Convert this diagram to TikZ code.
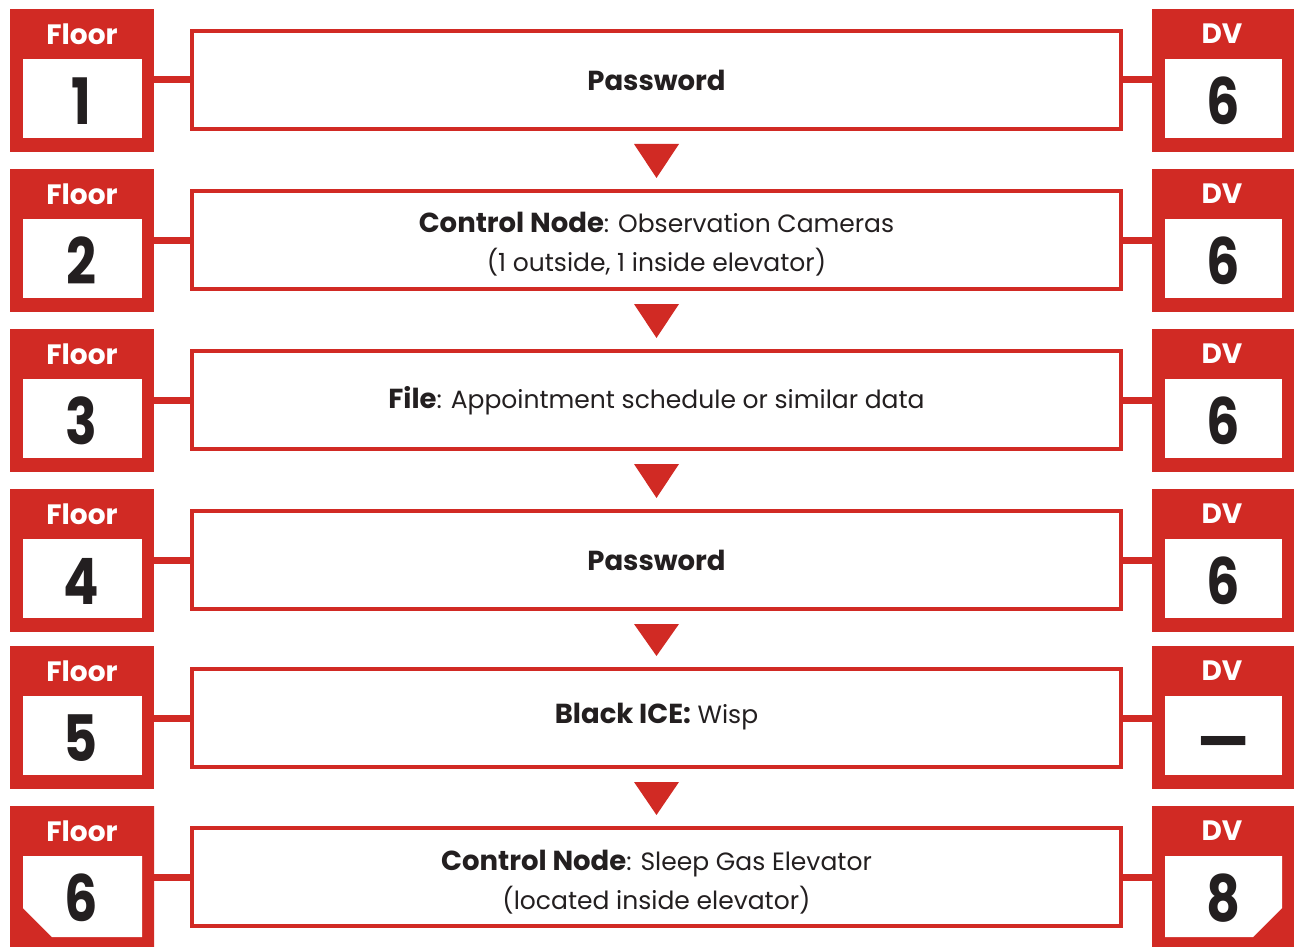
\documentclass[tikz,border=0pt]{standalone}
\usepackage{fontspec}
\setmainfont{Poppins}
\usetikzlibrary{calc,shapes.misc}
\definecolor{hackred}{RGB}{209,42,36}
\definecolor{ink}{RGB}{35,31,32}
% bold lead-in words of a floor description
\newcommand{\floorhead}[1]{{\fontsize{27.5}{39}\selectfont\bfseries #1}}
\tikzset{
  tag/.style={fill=hackred, draw=none, inner sep=0pt, minimum width=144pt, minimum height=143pt},
  lasttag/.style={tag, chamfered rectangle, chamfered rectangle xsep=31pt, chamfered rectangle ysep=31pt},
  slot/.style={fill=white},
  taglabel/.style={text=white, font=\fontsize{28}{28}\selectfont\bfseries, inner sep=0pt},
  tagvalue/.style={text=ink, font=\fontsize{64}{64}\selectfont\bfseries, inner sep=0pt, xscale=0.82},
  floorbox/.style={draw=hackred, line width=4pt, fill=white, minimum width=929pt, minimum height=98pt, inner sep=0pt},
  floortext/.style={align=center, text=ink, inner sep=0pt, font=\fontsize{25}{39}\selectfont},
  link/.style={draw=hackred, line width=7pt},
  drop/.style={fill=hackred},
}
\begin{document}
\begin{tikzpicture}[x=1pt,y=-1pt]
\useasboundingbox (0,0) rectangle (1294,947);

% rows: top edge of each row
\foreach \i/\t in {1/9,2/169,3/329,4/489,5/646}{
  \node[tag, anchor=north west] (f\i) at (10,\t) {};
  \node[tag, anchor=north west] (d\i) at (1152,\t) {};
  \fill[slot] (23,\t+50) rectangle (142,\t+129);
  \fill[slot] (1165,\t+50) rectangle (1282,\t+129);
}
% last row with cut corners
\node[lasttag, chamfered rectangle corners=south west, anchor=north west] (f6) at (10,806) {};
\node[lasttag, chamfered rectangle corners=south east, anchor=north west] (d6) at (1152,806) {};
\fill[slot] (23,856) -- (142,856) -- (142,937) -- (52,937) -- (23,908) -- cycle;
\fill[slot] (1165,856) -- (1282,856) -- (1282,908) -- (1253,937) -- (1165,937) -- cycle;

% tag captions
\foreach \i/\t in {1/9,2/169,3/329,4/489,5/646,6/806}{
  \node[taglabel] (fl\i) at (82,\t+25) {Floor};
  \node[taglabel] (dl\i) at (1222,\t+25) {DV};
}
% floor numbers
\foreach \i/\t in {1/9,2/169,3/329,4/489,5/646,6/806}{
  \node[tagvalue] (fn\i) at (81,\t+92) {\i};
}
% difficulty values
\node[tagvalue] (dn1) at (1223,101) {6};
\node[tagvalue] (dn2) at (1223,261) {6};
\node[tagvalue] (dn3) at (1223,421) {6};
\node[tagvalue] (dn4) at (1223,581) {6};
\node[tagvalue, xscale=1.07] (dn5) at (1224,750) {—};
\node[tagvalue] (dn6) at (1223,898) {8};

% floor boxes
\node[floorbox] (m1) at (656.5,80)  {};
\node[floorbox] (m2) at (656.5,240) {};
\node[floorbox] (m3) at (656.5,400) {};
\node[floorbox] (m4) at (656.5,560) {};
\node[floorbox] (m5) at (656.5,718) {};
\node[floorbox] (m6) at (656.5,877) {};

% floor contents
\node[floortext] (t1) at (m1) {\floorhead{Password}};
\node[floortext] (t2) at ($(m2)+(0,4)$) {\floorhead{Control Node}: Observation Cameras\\(1 outside, 1 inside elevator)};
\node[floortext] (t3) at ($(m3)+(0,1)$) {\floorhead{File}: Appointment schedule or similar data};
\node[floortext] (t4) at (m4) {\floorhead{Password}};
\node[floortext] (t5) at ($(m5)+(0,-1)$) {\floorhead{Black ICE:} Wisp};
\node[floortext] (t6) at ($(m6)+(0,5)$) {\floorhead{Control Node}: Sleep Gas Elevator\\(located inside elevator)};

% links from tags to boxes
\foreach \i in {1,...,6}{
  \draw[link] (m\i.west -| f\i.east) -- (m\i.west);
  \draw[link] (m\i.east) -- (m\i.east -| d\i.west);
}

% arrows between floors
\foreach \a/\b in {1/2,2/3,3/4,4/5,5/6}{
  \fill[drop] ($(m\a.south)+(-22.5,13)$) -- ($(m\a.south)+(22.5,13)$) -- ($(m\b.north)+(0,-11)$) -- cycle;
}
\end{tikzpicture}
\end{document}
